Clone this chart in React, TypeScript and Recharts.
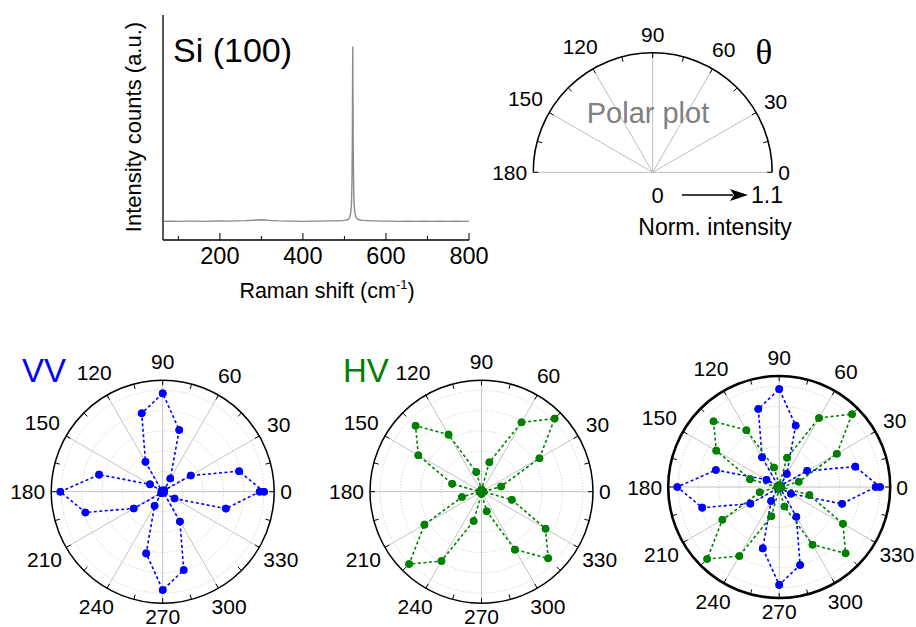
import React from 'react';
import {
  LineChart, Line, XAxis, YAxis,
  RadarChart, Radar, PolarGrid, PolarAngleAxis, PolarRadiusAxis,
} from 'recharts';

const FONT = '"Liberation Sans", Arial, Helvetica, sans-serif';

// ---------- Raman spectrum (Si 100) ----------
const ramanShift = [65, 80, 100, 120, 140, 160, 180, 200, 220, 240, 260, 280, 290, 300, 310, 320, 340, 360, 380, 400, 420, 440, 460, 480, 490, 500, 505, 510, 513, 515, 517, 518, 519, 520, 521, 522, 523, 525, 528, 532, 538, 545, 555, 570, 590, 610, 630, 650, 670, 690, 710, 730, 750, 770, 790, 800];
const ramanIntensity = [0.083, 0.084, 0.083, 0.084, 0.084, 0.083, 0.084, 0.085, 0.084, 0.085, 0.086, 0.088, 0.089, 0.090, 0.089, 0.087, 0.085, 0.084, 0.084, 0.083, 0.084, 0.084, 0.085, 0.085, 0.086, 0.087, 0.089, 0.093, 0.1, 0.12, 0.16, 0.25, 0.43, 0.86, 0.45, 0.26, 0.17, 0.12, 0.1, 0.092, 0.089, 0.087, 0.086, 0.085, 0.084, 0.084, 0.083, 0.084, 0.083, 0.084, 0.083, 0.084, 0.083, 0.084, 0.083, 0.084];
const ramanTicks = [100, 200, 300, 400, 500, 600, 700, 800];

// ---------- Polarized Raman (normalized intensity vs theta) ----------
const polarAnglesDeg = [0, 15, 30, 45, 60, 75, 90, 105, 120, 135, 150, 165, 180, 195, 210, 225, 240, 255, 270, 285, 300, 315, 330, 345, 360];
const vvIntensity = [1.0, 0.78, 0.32, 0.02, 0.15, 0.63, 0.97, 0.8, 0.34, 0.015, 0.145, 0.65, 1.01, 0.79, 0.33, 0.02, 0.16, 0.63, 0.97, 0.8, 0.34, 0.015, 0.135, 0.645, 0.956];
const hvIntensity = [0.02, 0.2, 0.66, 1.02, 0.79, 0.3, 0.02, 0.2, 0.65, 0.92, 0.72, 0.3, 0.02, 0.2, 0.65, 1.01, 0.79, 0.3, 0.02, 0.2, 0.66, 0.93, 0.73, 0.31, 0.02];
const angleTicks = [0, 15, 30, 45, 60, 75, 90, 105, 120, 135, 150, 165, 180, 195, 210, 225, 240, 255, 270, 285, 300, 315, 330, 345];
const semiAngleTicks = [0, 15, 30, 45, 60, 75, 90, 105, 120, 135, 150, 165, 180];
const spokeAngles = [0, 30, 60, 90, 120, 150, 180, 210, 240, 270, 300, 330];
const semiSpokeAngles = [0, 30, 60, 90, 120, 150, 180];
const radiusTicks = [0.2, 0.4, 0.6, 0.8, 1.0];

const ramanData = ramanShift.map((x, i) => ({ shift: x, intensity: ramanIntensity[i] }));
const polarData = polarAnglesDeg.map((a, i) => ({ angle: a, vv: vvIntensity[i], hv: hvIntensity[i] }));
const semiData = semiAngleTicks.map((a) => ({ angle: a }));

const BLUE = '#0000ff';
const GREEN = '#008000';

const makeAngleTick = (cx: number, cy: number, R: number, fs: number) => (props: any) => {
  const v = Number(props?.payload?.value);
  if (!Number.isFinite(v) || v % 30 !== 0) return <g />;
  const deg = typeof props.payload.coordinate === 'number' ? props.payload.coordinate : v;
  const a = (deg * Math.PI) / 180;
  const label = String(v);
  const w = label.length * 0.556 * fs;
  const h = 0.716 * fs;
  const c = Math.cos(a);
  const s = Math.sin(a);
  const D = R + 6 + (w / 2) * Math.abs(c) + (h / 2) * Math.abs(s) + (s > 0 ? 5 * s : 0);
  const x = cx + D * c;
  const y = cy - D * s;
  return (
    <text x={x} y={y + h / 2} textAnchor="middle" fontSize={fs} fontFamily={FONT} fill="#000">
      {label}
    </text>
  );
};

const bottomTick = (p: any) => {
  const v = p.payload.value;
  const major = v % 200 === 0;
  return (
    <g>
      <line x1={p.x} x2={p.x} y1={p.y} y2={p.y - (major ? 7 : 4)} stroke="#000" strokeWidth={1} />
      {major && (
        <text x={p.x} y={p.y + 24} textAnchor="middle" fontSize={23.5} fontFamily={FONT} fill="#000">
          {v}
        </text>
      )}
    </g>
  );
};

const topTick = (p: any) => {
  const v = p.payload.value;
  const major = v % 200 === 0;
  return <line x1={p.x} x2={p.x} y1={p.y} y2={p.y + (major ? 7 : 4)} stroke="#000" strokeWidth={1} />;
};

const makeDot = (color: string) => (p: any) => (
  <circle key={`d-${p.index}`} cx={p.cx} cy={p.cy} r={3.8} fill={color} stroke="none" />
);

const makeRadarShape = (color: string) => (props: any) => {
  const pts: any[] = props?.points || [];
  if (!pts.length) return <g />;
  const d = pts.map((p, i) => `${i ? 'L' : 'M'}${p.x},${p.y}`).join('') + 'Z';
  return (
    <g>
      <path d={d} fill="none" stroke={color} strokeWidth={1.6} strokeDasharray="3 2.5" />
      {pts.map((p, i) => (
        <circle key={i} cx={p.x} cy={p.y} r={3.8} fill={color} />
      ))}
    </g>
  );
};

type Series = { key: string; color: string };

function PolarPanel(props: {
  left: number; top: number; width: number; height: number;
  cx: number; cy: number; R: number; series: Series[]; outerWidth: number;
}) {
  const { left, top, width, height, cx, cy, R, series, outerWidth } = props;
  return (
    <div style={{ position: 'absolute', left, top }}>
      <RadarChart
        width={width}
        height={height}
        data={polarData}
        cx={cx}
        cy={cy}
        innerRadius={0}
        outerRadius={R}
        startAngle={0}
        endAngle={360}
        margin={{ top: 0, right: 0, bottom: 0, left: 0 }}
      >
        <PolarGrid gridType="circle" radialLines={false} stroke="#c4c4c4" strokeDasharray="1 2" />
        <PolarGrid gridType="circle" polarRadius={[]} polarAngles={spokeAngles} stroke="#bdbdbd" strokeWidth={0.9} />
        <PolarAngleAxis
          dataKey="angle"
          type="number"
          domain={[0, 360]}
          ticks={angleTicks}
          tick={makeAngleTick(cx, cy, R, 21)}
          tickSize={5}
          orientation="inner"
          axisLineType="circle"
          stroke="#000"
          axisLine={{ stroke: '#000', strokeWidth: outerWidth }}
          tickLine={{ stroke: '#000', strokeWidth: 1 }}
        />
        <PolarRadiusAxis angle={0} type="number" domain={[0, 1.1]} ticks={radiusTicks} tick={false} axisLine={false} tickLine={false} />
        {series.map((s) => (
          <Radar
            key={s.key}
            dataKey={s.key}
            stroke={s.color}
            strokeWidth={1.6}
            strokeDasharray="3 2.5"
            fill="none"
            fillOpacity={0}
            shape={makeRadarShape(s.color)}
            dot={makeDot(s.color)}
            isAnimationActive={false}
          />
        ))}
      </RadarChart>
    </div>
  );
}

export default function App() {
  const semiCx = 172.7;
  const semiCy = 172.3;
  const semiR = 119.5;
  return (
    <div style={{ position: 'absolute', left: 0, top: 0, width: 916, height: 627, background: '#fff', overflow: 'hidden', fontFamily: FONT }}>
      <style>{`
        .semi circle.recharts-polar-grid-concentric-circle,
        .semi .recharts-polar-angle-axis-line { clip-path: inset(0 0 50% 0); }
      `}</style>

      {/* Raman spectrum */}
      <div style={{ position: 'absolute', left: 100, top: 0 }}>
        <LineChart width={400} height={310} data={ramanData} margin={{ top: 15, right: 31, left: 0, bottom: 0 }}>
          <XAxis xAxisId="b" dataKey="shift" type="number" domain={[63, 800]} allowDataOverflow ticks={ramanTicks} interval={0}
            height={70} tickSize={0} tickMargin={0} tickLine={false} axisLine={{ stroke: '#000', strokeWidth: 1.3 }} tick={bottomTick} />
          <XAxis xAxisId="t" orientation="top" dataKey="shift" type="number" domain={[63, 800]} allowDataOverflow ticks={ramanTicks} interval={0}
            height={0} tickSize={0} tickMargin={0} tickLine={false} axisLine={{ stroke: '#000', strokeWidth: 1.3 }} tick={topTick} />
          <YAxis yAxisId="l" type="number" domain={[0, 1]} width={63} tick={false} tickLine={false} axisLine={{ stroke: '#000', strokeWidth: 1.3 }} />
          <YAxis yAxisId="r" orientation="right" type="number" domain={[0, 1]} width={0} tick={false} tickLine={false} axisLine={{ stroke: '#000', strokeWidth: 1.3 }} />
          <Line xAxisId="b" yAxisId="l" type="linear" dataKey="intensity" stroke="#8a8a8a" strokeWidth={1.4} dot={false} isAnimationActive={false} />
        </LineChart>
      </div>

      {/* Semicircle polar frame */}
      <div className="semi" style={{ position: 'absolute', left: 480, top: 0 }}>
        <RadarChart width={340} height={250} data={semiData} cx={semiCx} cy={semiCy} innerRadius={0} outerRadius={semiR}
          startAngle={0} endAngle={180} margin={{ top: 0, right: 0, bottom: 0, left: 0 }}>
          <PolarGrid gridType="circle" radialLines={false} stroke="#c4c4c4" strokeDasharray="1 2" />
          <PolarGrid gridType="circle" polarRadius={[]} polarAngles={semiSpokeAngles} stroke="#b5b5b5" strokeWidth={0.9} />
          <PolarAngleAxis dataKey="angle" type="number" domain={[0, 180]} ticks={semiAngleTicks}
            tick={makeAngleTick(semiCx, semiCy, semiR, 21)} tickSize={5} orientation="inner" axisLineType="circle" stroke="#000"
            axisLine={{ stroke: '#000', strokeWidth: 1.6 }} tickLine={{ stroke: '#000', strokeWidth: 1 }} />
          <PolarRadiusAxis angle={0} type="number" domain={[0, 1.1]} ticks={radiusTicks} tick={false} axisLine={false} tickLine={false} />
        </RadarChart>
      </div>

      <PolarPanel left={0} top={337} width={318} height={290} cx={162.7} cy={154.7} R={111.5}
        series={[{ key: 'vv', color: BLUE }]} outerWidth={1.5} />
      <PolarPanel left={316} top={337} width={320} height={290} cx={165.5} cy={154.7} R={111.5}
        series={[{ key: 'hv', color: GREEN }]} outerWidth={1.5} />
      <PolarPanel left={610} top={337} width={306} height={290} cx={169.2} cy={150} R={111}
        series={[{ key: 'vv', color: BLUE }, { key: 'hv', color: GREEN }]} outerWidth={2.6} />

      {/* Annotations */}
      <svg width={916} height={627} style={{ position: 'absolute', left: 0, top: 0, pointerEvents: 'none' }}>
        <text x={173} y={62} fontSize={34} fontFamily={FONT} fill="#000">Si (100)</text>
        <text x={327} y={298} fontSize={21.5} fontFamily={FONT} fill="#000" textAnchor="middle">
          Raman shift (cm<tspan dy={-9} fontSize={13}>-1</tspan><tspan dy={9}>)</tspan>
        </text>
        <text x={133} y={127} fontSize={22} fontFamily={FONT} fill="#000" textAnchor="middle" dominantBaseline="central"
          transform="rotate(-90 133 127)">Intensity counts (a.u.)</text>

        <text x={648} y={123} fontSize={29} fontFamily={FONT} fill="#808080" textAnchor="middle">Polar plot</text>
        <text x={764} y={64} fontSize={35} fontFamily={'"Liberation Serif", "Times New Roman", serif'} fill="#000" textAnchor="middle">θ</text>
        <text x={657.5} y={203} fontSize={22} fontFamily={FONT} fill="#000" textAnchor="middle">0</text>
        <line x1={682} y1={195} x2={733} y2={195} stroke="#000" strokeWidth={1.7} />
        <polygon points="748,195 730,189 734,195 730,201" fill="#000" />
        <text x={751} y={203} fontSize={23} fontFamily={FONT} fill="#000">1.1</text>
        <text x={715} y={235} fontSize={23} fontFamily={FONT} fill="#000" textAnchor="middle">Norm. intensity</text>

        <text x={22} y={382} fontSize={33} fontFamily={FONT} fill={BLUE}>VV</text>
        <text x={343} y={382} fontSize={33} fontFamily={FONT} fill={GREEN}>HV</text>
      </svg>
    </div>
  );
}
